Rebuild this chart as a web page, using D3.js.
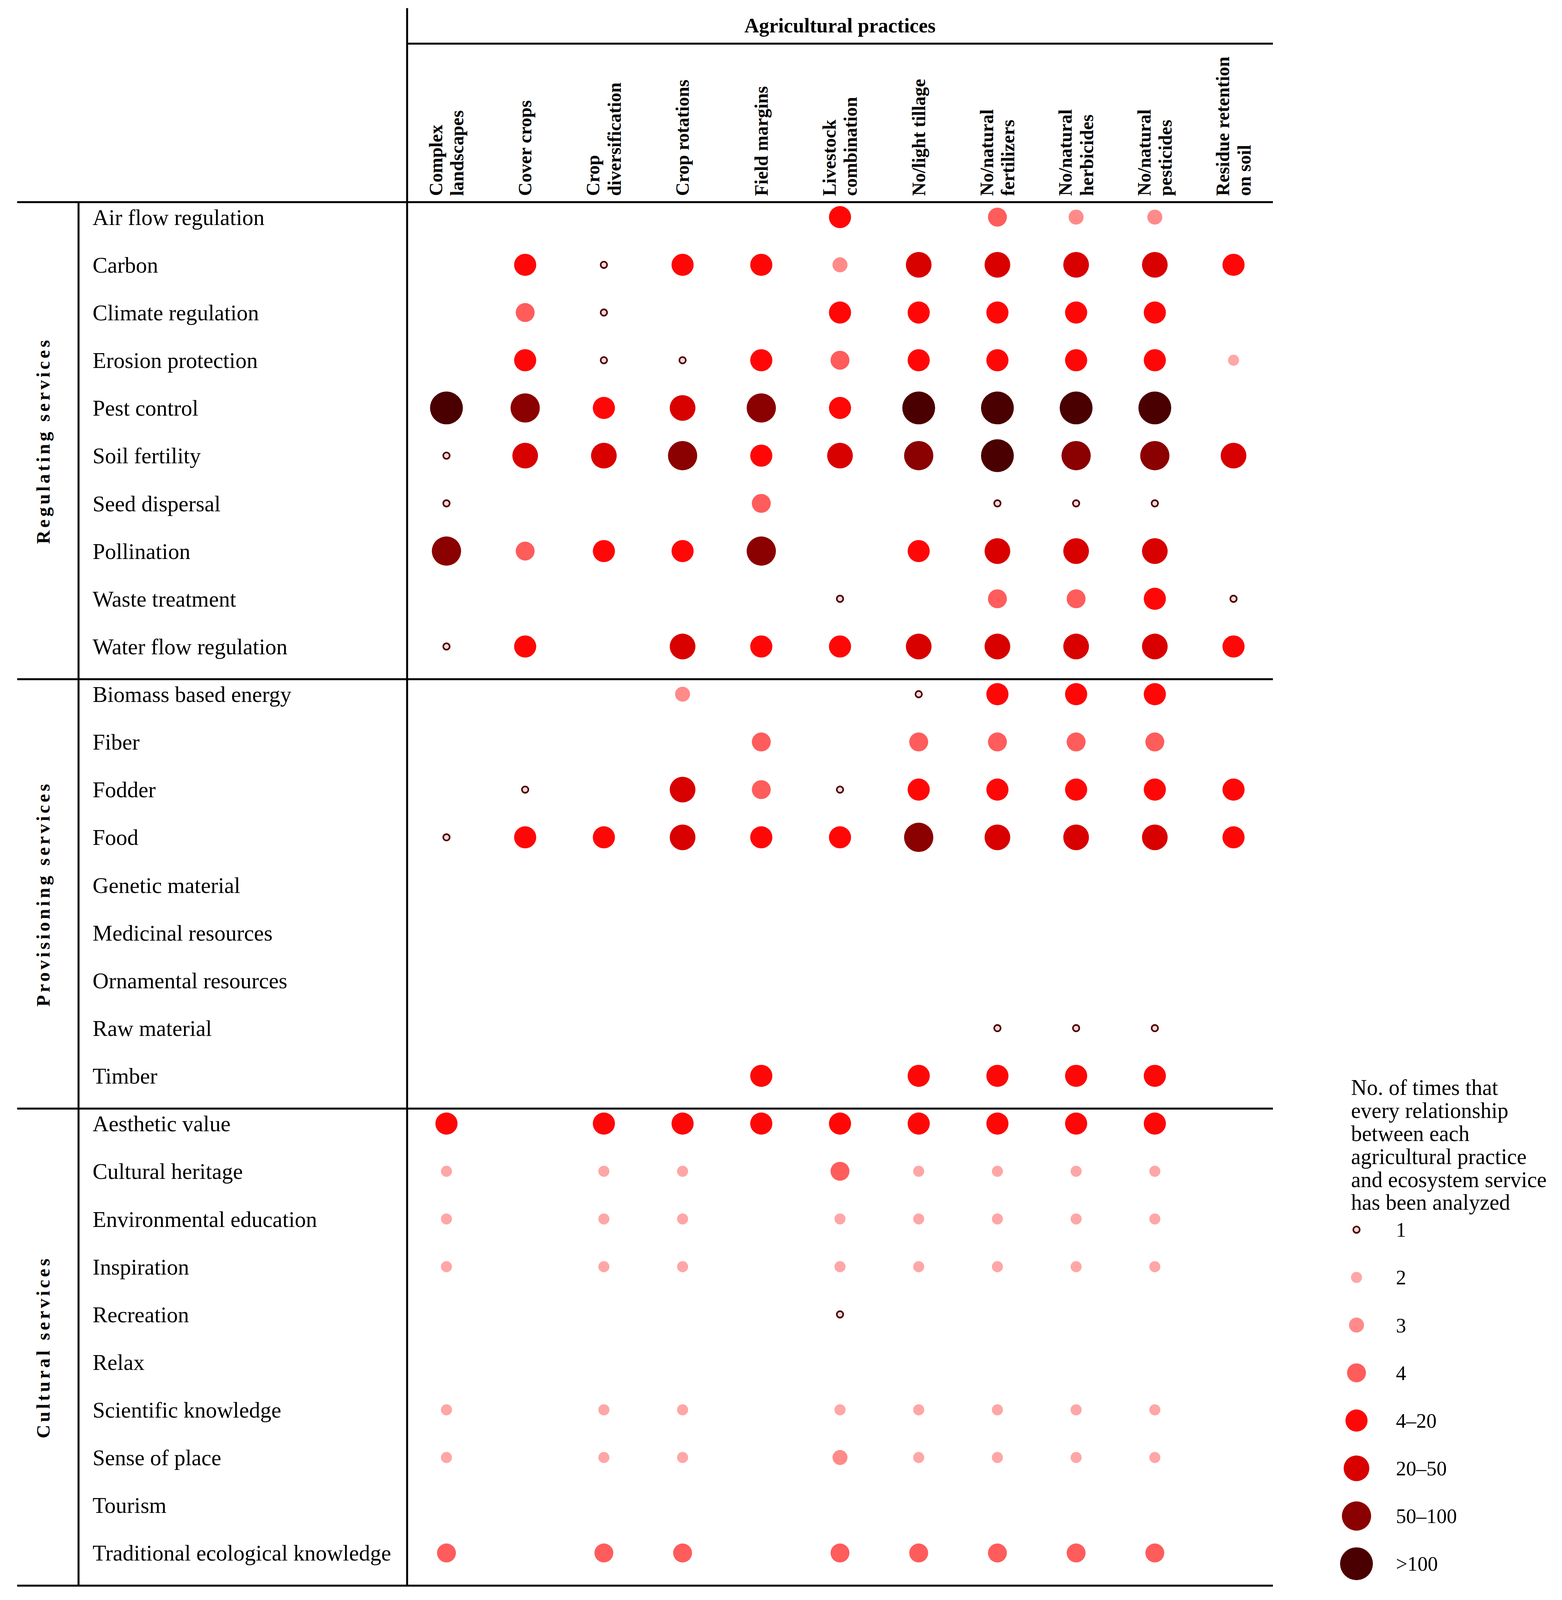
<!DOCTYPE html>
<html>
<head>
<meta charset="utf-8">
<script src="https://cdn.jsdelivr.net/npm/d3@7"></script>
<style>
  body { margin: 0; background: #fff; overflow: hidden; }
  svg { display: block; }
  text { font-family: "Liberation Serif", "Times New Roman", serif; fill: #000; }
</style>
</head>
<body>
<div id="chart"></div>
<script>
// practices (columns), each split into the header lines
const practiceLines = [
  ["Complex", "landscapes"], ["Cover crops"], ["Crop", "diversification"], ["Crop rotations"],
  ["Field margins"], ["Livestock", "combination"], ["No/light tillage"], ["No/natural", "fertilizers"],
  ["No/natural", "herbicides"], ["No/natural", "pesticides"], ["Residue retention", "on soil"]
];
const practices = practiceLines.map(d => d.join(" "));

const groups = ["Regulating services", "Provisioning services", "Cultural services"];

const regulatingServices = ["Air flow regulation", "Carbon", "Climate regulation", "Erosion protection",
  "Pest control", "Soil fertility", "Seed dispersal", "Pollination", "Waste treatment", "Water flow regulation"];
const provisioningServices = ["Biomass based energy", "Fiber", "Fodder", "Food", "Genetic material",
  "Medicinal resources", "Ornamental resources", "Raw material", "Timber"];
const culturalServices = ["Aesthetic value", "Cultural heritage", "Environmental education", "Inspiration",
  "Recreation", "Relax", "Scientific knowledge", "Sense of place", "Tourism", "Traditional ecological knowledge"];

// count classes: 0 = not analyzed, 1..8 = index into levels
const levels = ["1", "2", "3", "4", "4–20", "20–50", "50–100", ">100"];

const regulatingCounts = [
  [0, 0, 0, 0, 0, 5, 0, 4, 3, 3, 0],
  [0, 5, 1, 5, 5, 3, 6, 6, 6, 6, 5],
  [0, 4, 1, 0, 0, 5, 5, 5, 5, 5, 0],
  [0, 5, 1, 1, 5, 4, 5, 5, 5, 5, 2],
  [8, 7, 5, 6, 7, 5, 8, 8, 8, 8, 0],
  [1, 6, 6, 7, 5, 6, 7, 8, 7, 7, 6],
  [1, 0, 0, 0, 4, 0, 0, 1, 1, 1, 0],
  [7, 4, 5, 5, 7, 0, 5, 6, 6, 6, 0],
  [0, 0, 0, 0, 0, 1, 0, 4, 4, 5, 1],
  [1, 5, 0, 6, 5, 5, 6, 6, 6, 6, 5]
];
const provisioningCounts = [
  [0, 0, 0, 3, 0, 0, 1, 5, 5, 5, 0],
  [0, 0, 0, 0, 4, 0, 4, 4, 4, 4, 0],
  [0, 1, 0, 6, 4, 1, 5, 5, 5, 5, 5],
  [1, 5, 5, 6, 5, 5, 7, 6, 6, 6, 5],
  [0, 0, 0, 0, 0, 0, 0, 0, 0, 0, 0],
  [0, 0, 0, 0, 0, 0, 0, 0, 0, 0, 0],
  [0, 0, 0, 0, 0, 0, 0, 0, 0, 0, 0],
  [0, 0, 0, 0, 0, 0, 0, 1, 1, 1, 0],
  [0, 0, 0, 0, 5, 0, 5, 5, 5, 5, 0]
];
const culturalCounts = [
  [5, 0, 5, 5, 5, 5, 5, 5, 5, 5, 0],
  [2, 0, 2, 2, 0, 4, 2, 2, 2, 2, 0],
  [2, 0, 2, 2, 0, 2, 2, 2, 2, 2, 0],
  [2, 0, 2, 2, 0, 2, 2, 2, 2, 2, 0],
  [0, 0, 0, 0, 0, 1, 0, 0, 0, 0, 0],
  [0, 0, 0, 0, 0, 0, 0, 0, 0, 0, 0],
  [2, 0, 2, 2, 0, 2, 2, 2, 2, 2, 0],
  [2, 0, 2, 2, 0, 3, 2, 2, 2, 2, 0],
  [0, 0, 0, 0, 0, 0, 0, 0, 0, 0, 0],
  [4, 0, 4, 4, 0, 4, 4, 4, 4, 4, 0]
];

const legendTitle = ["No. of times that", "every relationship", "between each",
  "agricultural practice", "and ecosystem service", "has been analyzed"];

const groupServices = [regulatingServices, provisioningServices, culturalServices];
const groupCounts = [regulatingCounts, provisioningCounts, culturalCounts];
const services = groupServices.flat();

const cells = [];
groupServices.forEach((list, g) => {
  list.forEach((s, i) => {
    groupCounts[g][i].forEach((v, j) => {
      if (v > 0) cells.push({ service: s, practice: practices[j], level: levels[v - 1] });
    });
  });
});

// the window can be shorter than the 4908 px layout: squeeze the vertical layout to fit
const width = 3998, baseHeight = 4908;
const height = Math.min(window.innerHeight || baseHeight, baseHeight);
const ky = height / baseHeight;
const sy = v => v * ky;
const k = Math.sqrt(ky);   // size factor for vertical text and dots

const svg = d3.select("#chart").append("svg")
  .attr("width", width)
  .attr("height", height);

const x = d3.scaleBand().domain(practices).range([1042, 3258]);
const y = d3.scaleBand().domain(services).range([sy(620), sy(4864)]);
const dotOffset = sy(46);

const radius = d3.scaleOrdinal().domain(levels).range([9, 15.5, 21, 26.5, 31, 36, 41, 46].map(r => r * k));
const color = d3.scaleOrdinal().domain(levels)
  .range(["#ffd6d6", "#ffa6a6", "#ff8a8a", "#ff5c5c", "#ff0707", "#d90000", "#8b0000", "#4a0000"]);

function drawDot(sel) {
  sel.attr("r", d => radius(d.level))
    .attr("fill", d => color(d.level))
    .attr("stroke", d => d.level === "1" ? "#4a0000" : "none")
    .attr("stroke-width", 4.5 * k);
}

// table rules
const lineW = 5;
function rule(x1, y1, x2, y2) {
  svg.append("line")
    .attr("x1", x1).attr("y1", y1).attr("x2", x2).attr("y2", y2)
    .attr("stroke", "#000").attr("stroke-width", lineW);
}
const xEnd = x.range()[1];
rule(x.range()[0], sy(25), x.range()[0], y.range()[1]);
rule(x.range()[0], sy(134), xEnd, sy(134));
rule(44, y.range()[0], xEnd, y.range()[0]);
rule(201, y.range()[0], 201, y.range()[1]);
groupServices.slice(1).forEach(list => rule(44, y(list[0]), xEnd, y(list[0])));
rule(44, y.range()[1], xEnd, y.range()[1]);

// title
const titleSize = 52;
svg.append("text")
  .attr("x", (x.range()[0] + xEnd) / 2)
  .attr("y", sy(78) + titleSize * 0.34)
  .attr("text-anchor", "middle")
  .style("font-size", `${titleSize}px`)
  .style("font-weight", "bold")
  .text("Agricultural practices");

// column headers
const headSize = 52 * k;
const header = svg.append("g").selectAll("g")
  .data(practices)
  .join("g");
header.each(function (p, j) {
  const lines = practiceLines[j];
  const cx = x(p) + x.bandwidth() / 2;
  lines.forEach((t, i) => {
    const bx = cx + headSize * 0.34 + (i - (lines.length - 1) / 2) * headSize * 1.15;
    d3.select(this).append("text")
      .attr("transform", `translate(${bx}, ${y.range()[0] - 16}) rotate(-90)`)
      .style("font-size", `${headSize}px`)
      .style("font-weight", "bold")
      .text(t);
  });
});

// group labels
groupServices.forEach((list, g) => {
  const y0 = y(list[0]);
  const y1 = y(list[list.length - 1]) + y.bandwidth();
  svg.append("text")
    .attr("transform", `translate(127, ${(y0 + y1) / 2}) rotate(-90)`)
    .attr("text-anchor", "middle")
    .style("font-size", "48px")
    .style("font-weight", "bold")
    .style("letter-spacing", "7px")
    .text(groups[g]);
});

// row labels
svg.append("g").selectAll("text")
  .data(services)
  .join("text")
  .attr("x", 237)
  .attr("y", d => y(d) + dotOffset)
  .attr("dy", "0.35em")
  .style("font-size", "57px")
  .text(d => d);

// dots
svg.append("g").selectAll("circle")
  .data(cells)
  .join("circle")
  .attr("cx", d => x(d.practice) + x.bandwidth() / 2)
  .attr("cy", d => y(d.service) + dotOffset)
  .call(drawDot);

// legend
const legendSize = 56;
const legend = svg.append("g");
legend.selectAll("text.title")
  .data(legendTitle)
  .join("text")
  .attr("class", "title")
  .attr("x", 3458)
  .attr("y", (d, i) => sy(3395) - 30 + i * legendSize * 1.05)
  .style("font-size", `${legendSize}px`)
  .text(d => d);

const legendY = d3.scaleBand().domain(levels).range([sy(3702), sy(3702 + 146.4 * 8)]);
const item = legend.selectAll("g.item")
  .data(levels.map(l => ({ level: l })))
  .join("g")
  .attr("class", "item")
  .attr("transform", d => `translate(0, ${legendY(d.level) + sy(70)})`);
item.append("circle")
  .attr("cx", 3472)
  .attr("cy", 0)
  .call(drawDot);
item.append("text")
  .attr("x", 3573)
  .attr("dy", "0.35em")
  .style("font-size", "52px")
  .text(d => d.level);
</script>
</body>
</html>
